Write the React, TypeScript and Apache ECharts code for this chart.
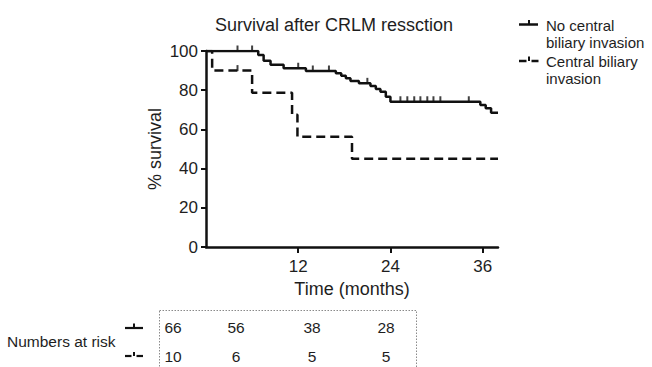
import { useEffect, useRef } from "react";
import * as echarts from "echarts";

// Kaplan–Meier steps: [time (months), survival % after the step]
const noInvasionSteps: [number, number][] = [
  [0, 100], [6.8, 98], [7.5, 95], [8.4, 93], [10.1, 91.2], [13.0, 89.8],
  [16.9, 88.6], [17.6, 87.4], [18.2, 86.1], [18.8, 84.7], [19.9, 83.5],
  [21.4, 82.1], [22.1, 80.6], [22.7, 79.2], [23.4, 76.7], [24.0, 74.1],
  [35.7, 72.4], [36.4, 70.8], [37.1, 68.5], [38, 68.5],
];
const noInvasionCensored = [4.1, 6.0, 12.0, 13.9, 16.0, 21.0, 25.3, 26.2, 27.1, 27.9, 28.8, 29.6, 30.5, 34.2];

const invasionSteps: [number, number][] = [
  [0, 100], [0.8, 90], [6.0, 78.75], [11.2, 67.5], [11.9, 56.25], [19.0, 45], [38, 45],
];
const invasionCensored = [4.1];

const xTickValues = [12, 24, 36];
const seriesNames = ["No central biliary invasion", "Central biliary invasion"];
const legendLines = [["No central", "biliary invasion"], ["Central biliary", "invasion"]];
const riskNoInvasion = ["66", "56", "38", "28"];
const riskInvasion = ["10", "6", "5", "5"];

// layout (positions only)
const riskColumnX = [173, 236, 312, 386];
const FONT = "'Liberation Sans', Arial, Helvetica, sans-serif";
const INK = "#111";
const TEXT = "#1e1e1e";

function valueAt(steps: [number, number][], t: number): number {
  let v = steps[0][1];
  for (const [x, y] of steps) {
    if (x <= t) v = y;
  }
  return v;
}

export default function App() {
  const ref = useRef<HTMLDivElement>(null);
  useEffect(() => {
    if (!ref.current) return;
    const chart = echarts.init(ref.current, undefined, { renderer: "svg" });

    const graphic: any[] = [];
    graphic.push({
      type: "text", x: 334, y: 25,
      style: { text: "Survival after CRLM ressction", font: `18px ${FONT}`, fill: TEXT, align: "center", verticalAlign: "middle" },
    });
    // legend
    const legendY = [24.5, 61];
    legendLines.forEach((lines, i) => {
      const y = legendY[i];
      if (i === 0) {
        graphic.push({ type: "line", shape: { x1: 519, y1: y, x2: 538, y2: y }, style: { stroke: INK, lineWidth: 2.5 } });
      } else {
        graphic.push({ type: "line", shape: { x1: 519, y1: y, x2: 526.5, y2: y }, style: { stroke: INK, lineWidth: 2.5 } });
        graphic.push({ type: "line", shape: { x1: 531.5, y1: y, x2: 538.5, y2: y }, style: { stroke: INK, lineWidth: 2.5 } });
      }
      graphic.push({ type: "line", shape: { x1: 529, y1: y - 4.5, x2: 529, y2: y }, style: { stroke: INK, lineWidth: 2 } });
      lines.forEach((t, j) => {
        graphic.push({
          type: "text", x: 546, y: y + 0.5 + j * 17,
          style: { text: t, font: `15px ${FONT}`, fill: TEXT, align: "left", verticalAlign: "middle" },
        });
      });
    });
    // numbers at risk table
    graphic.push({
      type: "rect", shape: { x: 159.5, y: 310.5, width: 257, height: 80 },
      style: { fill: "none", stroke: "#8a8a8a", lineWidth: 1, lineDash: [1.5, 1.5] },
    });
    graphic.push({
      type: "text", x: 7, y: 341,
      style: { text: "Numbers at risk", font: `15.5px ${FONT}`, fill: TEXT, align: "left", verticalAlign: "middle" },
    });
    // row symbols
    graphic.push({ type: "line", shape: { x1: 125, y1: 328, x2: 143, y2: 328 }, style: { stroke: INK, lineWidth: 2.2 } });
    graphic.push({ type: "line", shape: { x1: 134, y1: 323.5, x2: 134, y2: 328 }, style: { stroke: INK, lineWidth: 2 } });
    graphic.push({ type: "line", shape: { x1: 125, y1: 356, x2: 131.5, y2: 356 }, style: { stroke: INK, lineWidth: 2.2 } });
    graphic.push({ type: "line", shape: { x1: 136.5, y1: 356, x2: 143, y2: 356 }, style: { stroke: INK, lineWidth: 2.2 } });
    graphic.push({ type: "line", shape: { x1: 134, y1: 352, x2: 134, y2: 356 }, style: { stroke: INK, lineWidth: 2 } });
    [riskNoInvasion, riskInvasion].forEach((row, r) => {
      row.forEach((v, c) => {
        graphic.push({
          type: "text", x: riskColumnX[c], y: r === 0 ? 327 : 356,
          style: { text: v, font: `15.5px ${FONT}`, fill: TEXT, align: "center", verticalAlign: "middle" },
        });
      });
    });

    const censorSeries = (name: string, steps: [number, number][], times: number[]) => ({
      name: name + " censored",
      type: "scatter",
      data: times.map((t) => [t, valueAt(steps, t)]),
      symbol: "rect",
      symbolSize: [2, 6],
      symbolOffset: [0, -2.5],
      itemStyle: { color: INK },
      silent: true,
      z: 3,
    });

    chart.setOption({
      animation: false,
      grid: { left: 206, right: 154, top: 51, bottom: 120 },
      xAxis: {
        type: "value", min: 0, max: 38, interval: 12,
        name: "Time (months)", nameLocation: "middle", nameGap: 29,
        nameTextStyle: { fontFamily: FONT, fontSize: 18, color: TEXT },
        axisLine: { show: true, lineStyle: { color: INK, width: 2.5 } },
        axisTick: { show: true, length: 6, customValues: xTickValues, lineStyle: { color: INK, width: 2 } },
        axisLabel: { customValues: xTickValues, fontFamily: FONT, fontSize: 17, color: TEXT, margin: 11 },
        splitLine: { show: false },
      },
      yAxis: {
        type: "value", min: 0, max: 100, interval: 20,
        name: "% survival", nameLocation: "middle", nameGap: 42, nameRotate: 90,
        nameTextStyle: { fontFamily: FONT, fontSize: 18, color: TEXT },
        axisLine: { show: true, lineStyle: { color: INK, width: 2.5 } },
        axisTick: { show: true, length: 5, lineStyle: { color: INK, width: 2 } },
        axisLabel: { fontFamily: FONT, fontSize: 17, color: TEXT, margin: 8 },
        splitLine: { show: false },
      },
      series: [
        {
          name: seriesNames[1], type: "line", step: "end", data: invasionSteps,
          showSymbol: false, symbol: "none",
          lineStyle: { color: INK, width: 2.5, type: [9, 5] }, z: 2,
        },
        {
          name: seriesNames[0], type: "line", step: "end", data: noInvasionSteps,
          showSymbol: false, symbol: "none",
          lineStyle: { color: INK, width: 2.5 }, z: 2,
        },
        censorSeries(seriesNames[0], noInvasionSteps, noInvasionCensored),
        censorSeries(seriesNames[1], invasionSteps, invasionCensored),
      ],
      graphic,
    });
    return () => chart.dispose();
  }, []);
  return <div ref={ref} style={{ width: 652, height: 367, position: "absolute", left: 0, top: 0, background: "#fff" }} />;
}
